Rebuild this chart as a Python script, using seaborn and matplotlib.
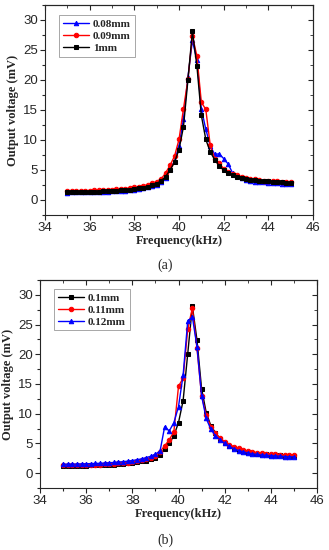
## Resonance curves of output voltage vs frequency, two panels

import numpy as np
import pandas as pd
import matplotlib
matplotlib.use("Agg")
import matplotlib.pyplot as plt
import seaborn as sns
from matplotlib.ticker import MultipleLocator

# frequency points (kHz)
freq = [35.0, 35.2, 35.4, 35.6, 35.8, 36.0, 36.2, 36.4, 36.6, 36.8,
        37.0, 37.2, 37.4, 37.6, 37.8, 38.0, 38.2, 38.4, 38.6, 38.8,
        39.0, 39.2, 39.4, 39.6, 39.8, 40.0, 40.2, 40.4, 40.6, 40.8,
        41.0, 41.2, 41.4, 41.6, 41.8, 42.0, 42.2, 42.4, 42.6, 42.8,
        43.0, 43.2, 43.4, 43.6, 43.8, 44.0, 44.2, 44.4, 44.6, 44.8, 45.0]

# panel (a)
a_008 = [1.25, 1.26, 1.27, 1.28, 1.29, 1.31, 1.33, 1.35, 1.37, 1.40,
         1.43, 1.47, 1.52, 1.57, 1.64, 1.72, 1.82, 1.94, 2.09, 2.28,
         2.55, 3.0, 3.7, 5.1, 6.5, 9.0, 13.5, 20.5, 26.6, 23.3,
         15.2, 11.8, 9.0, 7.6, 7.7, 6.9, 6.0, 4.5, 4.0, 3.6,
         3.3, 3.15, 3.05, 3.0, 2.95, 2.9, 2.85, 2.8, 2.75, 2.7, 2.65]
a_009 = [1.50, 1.51, 1.52, 1.53, 1.55, 1.57, 1.59, 1.62, 1.65, 1.69,
         1.73, 1.78, 1.84, 1.91, 1.99, 2.09, 2.21, 2.36, 2.55, 2.78,
         3.08, 3.5, 4.5, 5.8, 7.3, 10.1, 15.2, 20.1, 27.4, 24.0,
         16.3, 15.1, 9.1, 6.9, 6.2, 5.2, 4.7, 4.35, 4.1, 3.9,
         3.7, 3.55, 3.45, 3.35, 3.25, 3.2, 3.15, 3.1, 3.05, 3.0, 2.95]
a_1 = [1.30, 1.31, 1.32, 1.34, 1.35, 1.37, 1.39, 1.41, 1.44, 1.47,
       1.51, 1.55, 1.60, 1.66, 1.73, 1.82, 1.93, 2.06, 2.22, 2.45,
       2.75, 3.2, 3.9, 5.0, 6.3, 8.4, 12.2, 20.0, 28.1, 22.4,
       14.1, 10.1, 8.0, 6.7, 5.7, 5.0, 4.5, 4.15, 3.9, 3.7,
       3.5, 3.4, 3.3, 3.2, 3.15, 3.1, 3.05, 3.0, 2.95, 2.9, 2.85]

# panel (b)
b_010 = [1.20, 1.21, 1.22, 1.23, 1.25, 1.27, 1.29, 1.31, 1.34, 1.37,
         1.41, 1.45, 1.50, 1.56, 1.63, 1.72, 1.83, 1.96, 2.12, 2.33,
         2.62, 3.1, 4.1, 5.0, 6.3, 8.5, 12.2, 20.1, 28.1, 22.4,
         14.2, 10.2, 8.0, 6.8, 5.8, 5.1, 4.6, 4.2, 3.9, 3.7,
         3.5, 3.4, 3.3, 3.2, 3.15, 3.1, 3.05, 3.0, 2.95, 2.9, 2.85]
b_011 = [1.30, 1.31, 1.32, 1.33, 1.35, 1.37, 1.39, 1.42, 1.45, 1.49,
         1.53, 1.58, 1.64, 1.71, 1.79, 1.89, 2.01, 2.16, 2.35, 2.58,
         2.9, 3.6, 4.6, 5.6, 7.0, 14.6, 16.0, 24.2, 27.8, 21.0,
         13.0, 9.8, 7.8, 6.7, 5.9, 5.3, 4.8, 4.45, 4.15, 3.9,
         3.7, 3.55, 3.45, 3.35, 3.3, 3.2, 3.15, 3.1, 3.05, 3.0, 3.0]
b_012 = [1.50, 1.51, 1.52, 1.54, 1.56, 1.58, 1.60, 1.63, 1.66, 1.70,
         1.75, 1.80, 1.86, 1.93, 2.02, 2.12, 2.25, 2.40, 2.60, 2.85,
         3.2, 3.7, 7.8, 7.1, 8.5, 11.2, 16.5, 25.6, 26.3, 21.3,
         13.0, 9.2, 7.4, 6.3, 5.6, 5.0, 4.5, 4.1, 3.8, 3.6,
         3.4, 3.25, 3.15, 3.05, 3.0, 2.95, 2.9, 2.85, 2.8, 2.75, 2.75]

panel_a = [("0.08mm", a_008, "#0000ff", "^"),
           ("0.09mm", a_009, "#ff0000", "o"),
           ("1mm", a_1, "#000000", "s")]
panel_b = [("0.1mm", b_010, "#000000", "s"),
           ("0.11mm", b_011, "#ff0000", "o"),
           ("0.12mm", b_012, "#0000ff", "^")]

sns.set_style("ticks")
plt.rcParams['font.family'] = ['Liberation Sans', 'DejaVu Sans']
serif = ['Liberation Serif', 'DejaVu Serif']

fig = plt.figure(figsize=(3.29, 5.5), dpi=100)
ax_a = fig.add_axes([45/329, 335/550, 268/329, 210/550])
ax_b = fig.add_axes([40/329, 62/550, 277/329, 208/550])


def draw(ax, series, leg_xy):
    for name, vals, col, mk in series:
        df = pd.DataFrame({"f": freq, "v": vals})
        sns.lineplot(data=df, x="f", y="v", ax=ax, color=col, marker=mk,
                     markersize=3.2, markeredgecolor=col, linewidth=1,
                     label=name)
    ax.set_xlim(34, 46)
    ax.set_ylim(-2.5, 32.5)
    ax.xaxis.set_major_locator(MultipleLocator(2))
    ax.xaxis.set_minor_locator(MultipleLocator(1))
    ax.yaxis.set_major_locator(MultipleLocator(5))
    ax.yaxis.set_minor_locator(MultipleLocator(2.5))
    ax.tick_params(which='major', direction='out', length=3.5, width=0.8,
                   labelsize=9.5, pad=1.5)
    ax.tick_params(which='minor', direction='out', length=2, width=0.8)
    for s in ax.spines.values():
        s.set_linewidth(0.8)
    # mirrored ticks pointing inward on top and right
    top = ax.secondary_xaxis('top')
    top.xaxis.set_major_locator(MultipleLocator(2))
    top.xaxis.set_minor_locator(MultipleLocator(1))
    top.tick_params(which='major', direction='in', length=3.5, labeltop=False)
    top.tick_params(which='minor', direction='in', length=2)
    right = ax.secondary_yaxis('right')
    right.yaxis.set_major_locator(MultipleLocator(5))
    right.yaxis.set_minor_locator(MultipleLocator(2.5))
    right.tick_params(which='major', direction='in', length=3.5, labelright=False)
    right.tick_params(which='minor', direction='in', length=2)
    ax.set_xlabel("Frequency(kHz)", family=serif, fontweight='bold',
                  fontsize=9, labelpad=1)
    ax.set_ylabel("Output voltage (mV)", family=serif, fontweight='bold',
                  fontsize=9, labelpad=3)
    leg = ax.legend(loc='upper left', bbox_to_anchor=leg_xy, frameon=True,
                    fancybox=False, edgecolor='#999999', framealpha=1,
                    handlelength=2.4, labelspacing=0.2, borderpad=0.35,
                    handletextpad=0.3, borderaxespad=0,
                    prop={'family': serif, 'weight': 'bold', 'size': 8})
    leg.get_frame().set_linewidth(0.6)


draw(ax_a, panel_a, (0.052, 0.952))
draw(ax_b, panel_b, (0.05, 0.957))

fig.text(165/329, 1 - 265/550, "(a)", ha='center', va='center',
         family=serif, fontsize=10)
fig.text(165/329, 1 - 540/550, "(b)", ha='center', va='center',
         family=serif, fontsize=10)

fig.savefig("out.png", dpi=100)
